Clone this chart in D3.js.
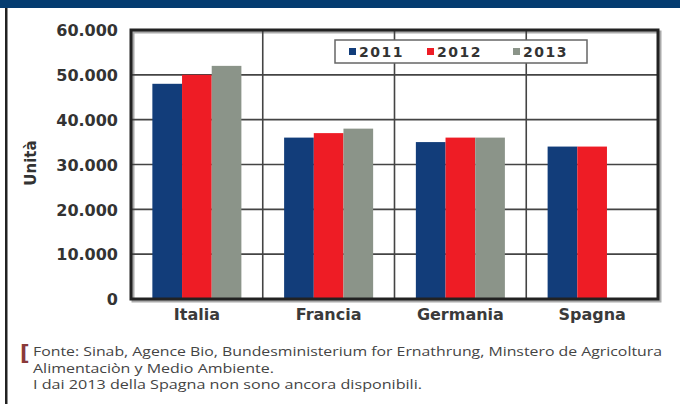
<!DOCTYPE html>
<html>
<head>
<meta charset="utf-8">
<script src="https://cdn.jsdelivr.net/npm/d3@7"></script>
<style>
  body { margin: 0; background: #fff; }
  svg { display: block; }
  .tick text { font-family: "DejaVu Sans", sans-serif; font-weight: bold; fill: #333; }
</style>
</head>
<body>
<script>
// chart data
var categories = ["Italia", "Francia", "Germania", "Spagna"];
var years = ["2011", "2012", "2013"];
var v2011 = [48000, 36000, 35000, 34000];
var v2012 = [50000, 37000, 36000, 34000];
var v2013 = [52000, 38000, 36000, null];   // 2013 not available for Spagna
var yTicks = [0, 10000, 20000, 30000, 40000, 50000, 60000];
var colors = ["#123d7a", "#ee1c25", "#8b9489"];
var notes = [
  "Fonte: Sinab, Agence Bio, Bundesministerium for Ernathrung, Minstero de Agricoltura",
  "Alimentaciòn y Medio Ambiente.",
  "I dai 2013 della Spagna non sono ancora disponibili."
];

var W = 680, H = 404;
var margin = {top: 30, right: 22, bottom: 105, left: 131},
    width = W - margin.left - margin.right,
    height = H - margin.top - margin.bottom;

var series = [v2011, v2012, v2013];
var data = categories.map(function(c, i) {
  return { cat: c, vals: years.map(function(y, j) { return { year: y, idx: j, v: series[j][i] }; }) };
});

var it = d3.formatLocale({ decimal: ",", thousands: ".", grouping: [3], currency: ["", ""] });
var fmt = it.format(",");

var svg = d3.select("body").append("svg")
  .attr("width", W)
  .attr("height", H);

// banner + left rule
svg.append("rect").attr("x", 0).attr("y", 0).attr("width", W).attr("height", 8).attr("fill", "#043c70");
svg.append("rect").attr("x", 5).attr("y", 8).attr("width", 2.5).attr("height", H - 8).attr("fill", "#222");

var g = svg.append("g")
  .attr("transform", "translate(" + margin.left + "," + margin.top + ")");

var x0 = d3.scaleBand().domain(categories).range([0, width]).padding(0);
var x1 = d3.scaleBand().domain(years).range([0, x0.bandwidth()]).paddingInner(0).paddingOuter(0.72);
var y = d3.scaleLinear().domain([0, 60000]).range([height, 0]);

// frame shadow
g.append("rect")
  .attr("x", 2).attr("y", 2)
  .attr("width", width).attr("height", height)
  .attr("fill", "none").attr("stroke", "#aaa").attr("stroke-width", 3);

// gridlines
g.append("g").selectAll("line.h")
  .data(yTicks.slice(1, -1)).enter().append("line")
  .attr("x1", 0).attr("x2", width)
  .attr("y1", function(d) { return y(d); }).attr("y2", function(d) { return y(d); })
  .attr("stroke", "#444").attr("stroke-width", 1.6);

g.append("g").selectAll("line.v")
  .data(categories.slice(1)).enter().append("line")
  .attr("x1", function(d) { return x0(d); }).attr("x2", function(d) { return x0(d); })
  .attr("y1", 0).attr("y2", height)
  .attr("stroke", "#444").attr("stroke-width", 1.6);

// bars
var groups = g.selectAll("g.cat")
  .data(data).enter().append("g")
  .attr("class", "cat")
  .attr("transform", function(d) { return "translate(" + x0(d.cat) + ",0)"; });

groups.selectAll("rect")
  .data(function(d) { return d.vals.filter(function(e) { return e.v != null; }); })
  .enter().append("rect")
  .attr("x", function(d) { return x1(d.year); })
  .attr("width", x1.bandwidth())
  .attr("y", function(d) { return y(d.v); })
  .attr("height", function(d) { return height - y(d.v); })
  .attr("fill", function(d) { return colors[d.idx]; });

// frame
g.append("rect")
  .attr("width", width).attr("height", height)
  .attr("fill", "none").attr("stroke", "#222").attr("stroke-width", 3);

// y axis
var yAxis = d3.axisLeft(y).tickValues(yTicks).tickFormat(fmt).tickSize(0).tickPadding(13);
g.append("g").call(yAxis)
  .call(function(s) { s.select(".domain").remove(); })
  .selectAll("text").style("font-size", "16px").attr("dy", "0.36em");

// x axis labels
var xAxis = d3.axisBottom(x0).tickSize(0).tickPadding(10);
g.append("g")
  .attr("transform", "translate(0," + height + ")")
  .call(xAxis)
  .call(function(s) { s.select(".domain").remove(); })
  .selectAll("text").style("font-size", "16px").style("fill", "#3a3a3a");

// y title
svg.append("text")
  .attr("transform", "translate(36,163) rotate(-90)")
  .attr("text-anchor", "middle")
  .style("font-family", "DejaVu Sans, sans-serif")
  .style("font-weight", "bold")
  .style("font-size", "15px")
  .style("fill", "#333")
  .text("Unità");

// legend
var leg = svg.append("g").attr("transform", "translate(335,40)");
leg.append("rect")
  .attr("width", 252).attr("height", 23)
  .attr("fill", "#fff").attr("stroke", "#666").attr("stroke-width", 1.5);

var legX = [14, 92, 178];
var items = leg.selectAll("g.item")
  .data(years).enter().append("g")
  .attr("transform", function(d, i) { return "translate(" + legX[i] + ",0)"; });

items.append("rect")
  .attr("y", 8).attr("width", 7).attr("height", 7)
  .attr("fill", function(d, i) { return colors[i]; });

items.append("text")
  .attr("x", 10).attr("y", 16.5)
  .style("font-family", "DejaVu Sans, sans-serif")
  .style("font-weight", "bold")
  .style("font-size", "14px")
  .style("letter-spacing", "1.5px")
  .style("fill", "#333")
  .text(function(d) { return d; });

// footnote
svg.append("text")
  .attr("x", 20).attr("y", 360)
  .style("font-family", "DejaVu Sans, sans-serif")
  .style("font-size", "21px")
  .style("font-weight", "bold")
  .style("fill", "#8a3a3a")
  .text("[");

var noteLen = [629, 241, 389];
svg.selectAll("text.note")
  .data(notes).enter().append("text")
  .attr("class", "note")
  .attr("x", 33)
  .attr("y", function(d, i) { return 356 + i * 16.6; })
  .attr("textLength", function(d, i) { return noteLen[i]; })
  .attr("lengthAdjust", "spacingAndGlyphs")
  .style("font-family", "Open Sans, sans-serif")
  .style("font-size", "12px")
  .style("fill", "#444")
  .text(function(d) { return d; });
</script>
</body>
</html>
